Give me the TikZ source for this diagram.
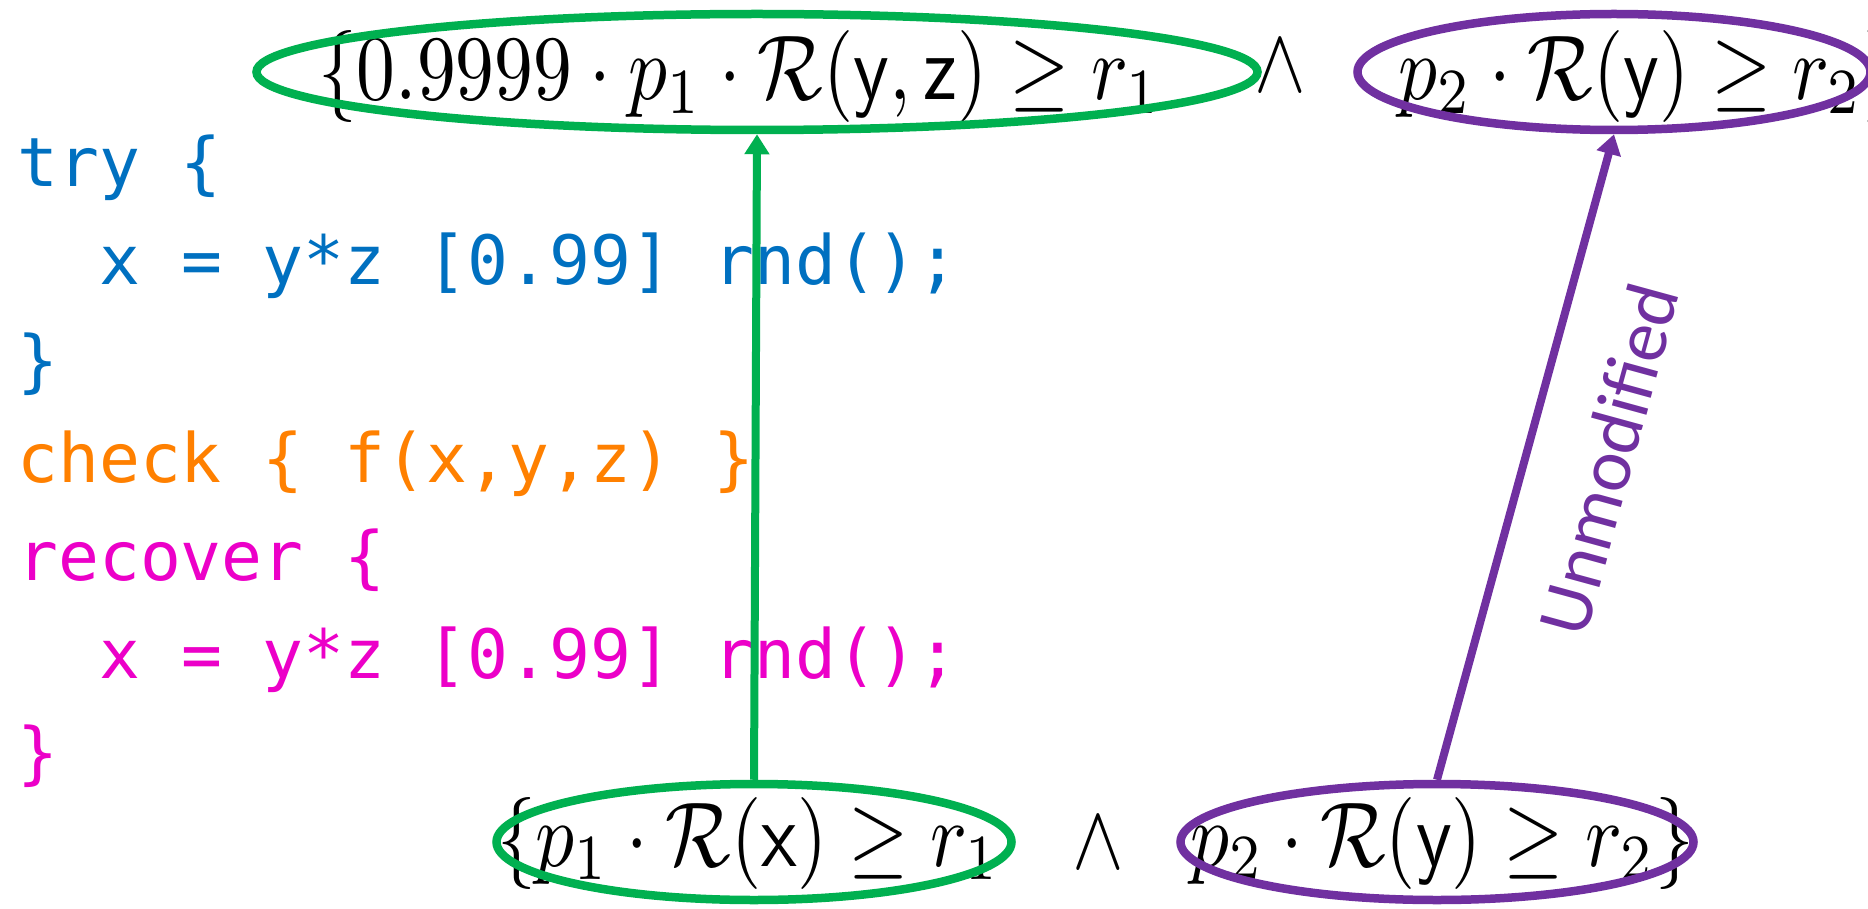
\documentclass[tikz,border=0pt]{standalone}
\usepackage{fontspec}
\usepackage{graphicx}
\usetikzlibrary{shapes.geometric,arrows.meta,calc}
\newfontfamily\codefont{DejaVu Sans Mono}
\newfontfamily\labfont{Carlito}
\definecolor{cblue}{HTML}{0070C0}
\definecolor{corange}{HTML}{FF8000}
\definecolor{cmag}{HTML}{EC00C8}
\definecolor{cgreen}{HTML}{00B050}
\definecolor{cpurple}{HTML}{7030A0}
\newcommand{\bigmath}[1]{\scalebox{7.75}[9.2]{$#1$}}
\begin{document}
\begin{tikzpicture}[x=1pt,y=-1pt,
  codeline/.style={anchor=base west, inner sep=0pt, font=\codefont\fontsize{68}{68}\selectfont},
  mtext/.style={inner sep=0pt},
  oval/.style={draw, ellipse, line width=8.5pt, minimum width=#1, minimum height=116pt, inner sep=0pt},
  arr/.style={line width=8pt, -{Triangle[width=24pt,length=20pt]}}]
\useasboundingbox (0,0) rectangle (1868,909);
% code
\node[codeline, cblue] (c1) at (17,187) {try \{};
\node[codeline, cblue] (c2) at (99,285) {x = y*z [0.99] rnd();};
\node[codeline, cblue] (c3) at (17,384) {\}};
\node[codeline, corange] (c4) at (17,482) {check \{ f(x,y,z) \}};
\node[codeline, cmag] (c5) at (17,580) {recover \{};
\node[codeline, cmag] (c6) at (99,678) {x = y*z [0.99] rnd();};
\node[codeline, cmag] (c7) at (17,776) {\}};
% formulas
\node[mtext, anchor=base west] (f1) at (318,100) {\bigmath{\{0.9999\cdot p_1\cdot\mathcal{R}(\mathsf{y},\mathsf{z})\geq r_1}};
\node[mtext] (w1) at (1280,66) {\bigmath{\wedge}};
\node[mtext, anchor=base west] (f2) at (1398,100) {\bigmath{p_2\cdot\mathcal{R}(\mathsf{y})\geq r_2\}}};
\node[mtext, anchor=base west] (f3) at (497,866) {\bigmath{\{p_1\cdot\mathcal{R}(\mathsf{x})\geq r_1}};
\node[mtext] (w2) at (1098,843) {\bigmath{\wedge}};
\node[mtext, anchor=base east] (f4) at (1694,866) {\bigmath{p_2\cdot\mathcal{R}(\mathsf{y})\geq r_2\}}};
% ovals
\node[oval=1001pt, cgreen] (t1) at (757,72) {};
\node[oval=513pt, cpurple] (t2) at (1614,72) {};
\node[oval=515pt, cgreen] (b1) at (754,842) {};
\node[oval=513pt, cpurple] (b2) at (1437,842) {};
% arrows
\draw[arr, cgreen] (b1.north) -- (t1.south);
\draw[arr, cpurple] (b2.north) -- (t2.south);
\coordinate (m) at ($(b2.north)!0.53!(t2.south)$);
\node[inner sep=0pt, rotate=74.7, text=cpurple, font=\labfont\fontsize{75}{75}\selectfont] (lab) at ($(m)!80pt!-90:(t2.south)$) {Unmodified};
\end{tikzpicture}
\end{document}
